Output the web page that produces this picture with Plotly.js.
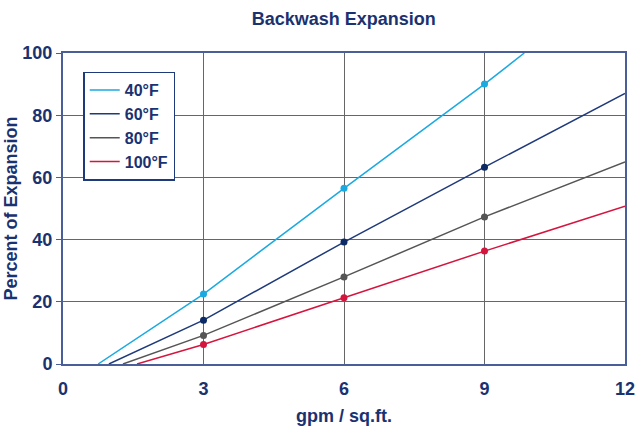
<!DOCTYPE html>
<html><head><meta charset="utf-8">
<script src="https://cdn.plot.ly/plotly-3.0.1.min.js"></script>
<style>html,body{margin:0;padding:0;background:#fff}#chart{width:640px;height:427px}</style>
</head><body><div id="chart"></div>
<script>
const seriesNames = ["40°F", "60°F", "80°F", "100°F"];
const seriesColors = ["#1ba9e1", "#1f3a7a", "#555555", "#d4163f"];
const markerColors = ["#1ba9e1", "#0c2a66", "#555555", "#d4163f"];
// line x/y points (start at 0%, through 3, 6, 9 gpm, end at chart edge)
const x40 = [0.75, 3, 6, 9, 9.85];  const y40 = [0, 22.5, 56.5, 90, 100];
const x60 = [0.98, 3, 6, 9, 12];    const y60 = [0, 14.1, 39.2, 63.3, 87];
const x80 = [1.28, 3, 6, 9, 12];    const y80 = [0, 9.2, 28, 47.3, 65];
const x100 = [1.58, 3, 6, 9, 12];   const y100 = [0, 6.3, 21.3, 36.3, 50.7];
const markerX = [3, 6, 9];
const xTicks = [0, 3, 6, 9, 12];
const yTicks = [0, 20, 40, 60, 80, 100];

const xs = [x40, x60, x80, x100], ys = [y40, y60, y80, y100];
const navy = "#1a3270";
const traces = [];
seriesNames.forEach((n, i) => {
  traces.push({
    x: xs[i], y: ys[i], name: n, type: "scatter", mode: "lines",
    line: {color: seriesColors[i], width: 1.5}
  });
});
seriesNames.forEach((n, i) => {
  const mx = [], my = [];
  xs[i].forEach((v, k) => { if (markerX.includes(v)) { mx.push(v); my.push(ys[i][k]); } });
  traces.push({
    x: mx, y: my, name: n, type: "scatter", mode: "markers", showlegend: false,
    marker: {color: markerColors[i], size: 7}
  });
});
const layout = {
  width: 640, height: 427,
  margin: {l: 63, r: 15, t: 53, b: 63},
  paper_bgcolor: "#fff", plot_bgcolor: "#fff",
  font: {family: "Liberation Sans, Arial, sans-serif", color: navy},
  title: {text: "<b>Backwash Expansion</b>", x: 0.537, xanchor: "center", y: 0.957, yanchor: "middle",
          font: {size: 18, color: navy}},
  xaxis: {range: [0, 12], tickvals: xTicks, ticktext: xTicks.map(String),
          showgrid: true, gridcolor: "#666", gridwidth: 1, zeroline: false,
          showline: true, linecolor: "#4a5f9a", linewidth: 2, mirror: true,
          ticks: "", ticklabelstandoff: 7, tickfont: {size: 18, color: navy, weight: "bold"},
          title: {text: "<b>gpm / sq.ft.</b>", font: {size: 18, color: navy}, standoff: 12}},
  yaxis: {range: [0, 100], tickvals: yTicks, ticktext: yTicks.map(String),
          showgrid: true, gridcolor: "#666", gridwidth: 1, zeroline: false,
          showline: true, linecolor: "#4a5f9a", linewidth: 2, mirror: true,
          ticks: "outside", ticklen: 5, tickcolor: "#4a5f9a",
          tickfont: {size: 18, color: navy, weight: "bold"},
          title: {text: "<b>Percent of Expansion</b>", font: {size: 18, color: navy}, standoff: 0}},
  legend: {x: 0.036, y: 0.94, xanchor: "left", yanchor: "top",
           bgcolor: "#fff", bordercolor: "#1f3a7a", borderwidth: 1.5,
           font: {size: 16, color: navy, weight: "bold"}, tracegroupgap: 0, itemwidth: 30},
  showlegend: true
};
Plotly.newPlot("chart", traces, layout, {staticPlot: true, displayModeBar: false});
</script></body></html>
